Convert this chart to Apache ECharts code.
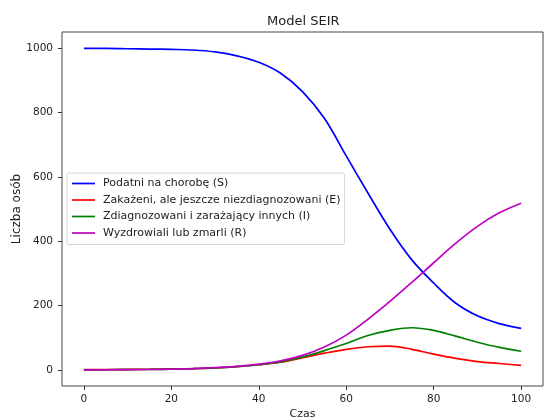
<!DOCTYPE html>
<html>
<head>
<meta charset="utf-8">
<script src="https://cdn.jsdelivr.net/npm/echarts@6/dist/echarts.min.js"></script>
<style>
html,body{margin:0;padding:0;background:#fff;}
#chart{width:545px;height:418px;}
</style>
</head>
<body>
<div id="chart"></div>
<script>
const czas = [0,5,10,15,20,25,30,35,40,45,50,55,60,65,70,75,80,85,90,95,100];
const podatni = [999,999,998,997,996,994,988,976,956,922,865,782,665,549,437,342,270,208,168,144,129];
const zakazeni = [1,1,1.5,2,3,4,6,10,16,24,38,52,64,72,74,64,49,36,26,20,14];
const zdiagnozowani = [0,0.5,1,1.5,2.5,4,6,10,16,25,40,60,82,107,123,131,123,105,86,70,58];
const wyzdrowiali = [0,0.5,1,1.5,2.5,4,7,11,18,28,45,71,108,158,213,272,333,393,446,488,518];
const xTicks = [0,20,40,60,80,100];
const yTicks = [0,200,400,600,800,1000];
const names = ['Podatni na chorobę (S)','Zakażeni, ale jeszcze niezdiagnozowani (E)','Zdiagnozowani i zarażający innych (I)','Wyzdrowiali lub zmarli (R)'];
const colors = ['#0000ff','#ff0000','#008000','#bf00bf'];
const values = [podatni, zakazeni, zdiagnozowani, wyzdrowiali];

const FONT = 'DejaVu Sans';
const chart = echarts.init(document.getElementById('chart'), null, {renderer:'canvas'});
chart.setOption({
  animation:false,
  backgroundColor:'#fff',
  title:{text:'Model SEIR', left:267, top:15.5, padding:0,
    textStyle:{fontFamily:FONT, fontSize:13, fontWeight:'normal', color:'#222'}},
  grid:{left:62, right:2, top:32, bottom:32, show:true, borderColor:'#444', borderWidth:1,
    containLabel:false, outerBoundsMode:'none'},
  legend:{
    orient:'vertical', left:67, top:173,
    data:names,
    icon:'rect',
    itemWidth:23, itemHeight:1.7, itemGap:5.5,
    padding:[5,4,6,5],
    borderColor:'#d5d5d5', borderWidth:1, borderRadius:2,
    backgroundColor:'rgba(255,255,255,0.8)',
    textStyle:{fontFamily:FONT, fontSize:11, color:'#222', padding:[0,0,0,3]}
  },
  xAxis:{
    type:'value', min:-5, max:105,
    name:'Czas', nameLocation:'middle', nameGap:23, nameMoveOverlap:false,
    nameTextStyle:{fontFamily:FONT, fontSize:11, color:'#222'},
    splitLine:{show:false},
    axisLine:{show:false, onZero:false},
    axisTick:{show:true, length:4, lineStyle:{color:'#333'}, customValues:xTicks},
    axisLabel:{fontFamily:FONT, fontSize:10.5, color:'#222', margin:8, customValues:xTicks,
      formatter:(v)=>String(v)}
  },
  yAxis:{
    type:'value', min:-50, max:1050,
    name:'Liczba osób', nameLocation:'middle', nameGap:39, nameRotate:90, nameMoveOverlap:false,
    nameTextStyle:{fontFamily:FONT, fontSize:12, color:'#222'},
    splitLine:{show:false},
    axisLine:{show:false, onZero:false},
    axisTick:{show:true, length:4, lineStyle:{color:'#333'}, customValues:yTicks},
    axisLabel:{fontFamily:FONT, fontSize:10.5, color:'#222', margin:9, customValues:yTicks,
      formatter:(v)=>String(v)}
  },
  series: names.map((n,i)=>({
    name:n, type:'line', symbol:'none', smooth:0.35,
    data: czas.map((t,j)=>[t, values[i][j]]),
    lineStyle:{color:colors[i], width:1.7},
    itemStyle:{color:colors[i]},
    z: 2+i
  }))
});
</script>
</body>
</html>
